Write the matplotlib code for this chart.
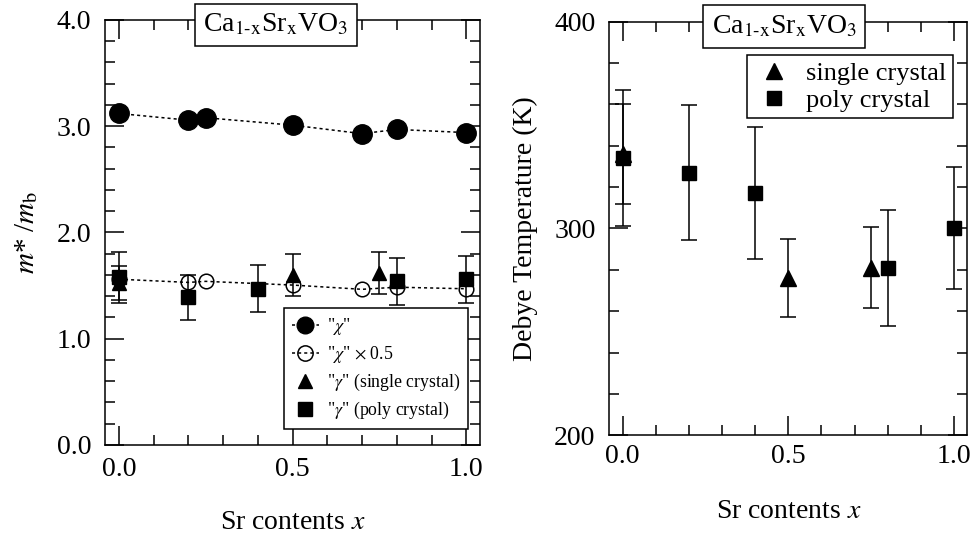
import numpy as np
import matplotlib
matplotlib.use('Agg')
import matplotlib.pyplot as plt
from matplotlib.ticker import MultipleLocator, FormatStrFormatter
from matplotlib.lines import Line2D

plt.rcParams['font.family'] = ['Liberation Serif', 'DejaVu Serif']
plt.rcParams['mathtext.fontset'] = 'stix'

# left panel: effective mass ratio
x_chi = [0.0, 0.2, 0.25, 0.5, 0.7, 0.8, 1.0]
m_chi = [3.12, 3.057, 3.08, 3.01, 2.93, 2.97, 2.94]
m_chi_half = [1.56, 1.53, 1.54, 1.505, 1.465, 1.485, 1.47]

x_gam_single = [0.0, 0.5, 0.75]
m_gam_single = [1.52, 1.60, 1.62]
m_gam_single_err = [0.16, 0.20, 0.20]

x_gam_poly = [0.0, 0.2, 0.4, 0.8, 1.0]
m_gam_poly = [1.58, 1.39, 1.47, 1.54, 1.56]
m_gam_poly_err = [0.24, 0.21, 0.22, 0.22, 0.22]

# right panel: Debye temperature
x_td_single = [0.0, 0.5, 0.75]
td_single = [336, 276, 281]
td_single_err = [24, 19, 19.5]

x_td_poly = [0.0, 0.2, 0.4, 0.8, 1.0]
td_poly = [334, 327, 317, 281, 300]
td_poly_err = [33, 32.5, 32, 28, 29.5]

title_str = r'Ca$_{\mathrm{1\text{-}x}}$Sr$_{\mathrm{x}}$VO$_{3}$'


def style_axes(ax, ymaj, ymin, xpad, lpad):
    ax.set_xlim(-0.04, 1.04)
    ax.xaxis.set_major_locator(MultipleLocator(0.5))
    ax.xaxis.set_minor_locator(MultipleLocator(0.1))
    ax.yaxis.set_major_locator(MultipleLocator(ymaj))
    ax.yaxis.set_minor_locator(MultipleLocator(ymin))
    ax.xaxis.set_major_formatter(FormatStrFormatter('%.1f'))
    ax.tick_params(which='both', direction='in', top=True, right=True,
                   width=1.1, labelsize=20)
    ax.tick_params(which='major', length=14, pad=10)
    ax.tick_params(axis='x', which='major', pad=xpad)
    ax.tick_params(which='minor', length=7)
    for sp in ax.spines.values():
        sp.set_linewidth(1.1)
    ax.set_xlabel(r'Sr contents $x$', fontsize=20, labelpad=lpad)


def title_box(ax, xpos, ypos):
    ax.text(xpos, ypos, title_str, transform=ax.transAxes, ha='center',
            va='center', fontsize=20, zorder=10,
            bbox=dict(boxstyle='square,pad=0.3', fc='white', ec='black', lw=1.1))


fig = plt.figure(figsize=(9.72, 5.4), dpi=100)
ax1 = fig.add_axes([0.108, 0.176, 0.386, 0.787])
ax2 = fig.add_axes([0.627, 0.194, 0.368, 0.766])

dots = (0, (2, 2))
eb = dict(color='black', ecolor='black', elinewidth=1.1, capsize=6, capthick=1.1,
          linestyle='none')

ax1.plot(x_chi, m_chi, color='black', linestyle=dots, lw=1.1, marker='o',
         markersize=14)
ax1.plot(x_chi, m_chi_half, color='black', linestyle=dots, lw=1.1, marker='o',
         markersize=10.5, mfc='none', mew=1.1)
ax1.errorbar(x_gam_single, m_gam_single, yerr=m_gam_single_err, marker='^',
             markersize=10, **eb)
ax1.errorbar(x_gam_poly, m_gam_poly, yerr=m_gam_poly_err, marker='s',
             markersize=9.5, **eb)
ax1.set_ylim(0, 4.0)
style_axes(ax1, 1.0, 0.2, 9, 20)
ax1.yaxis.set_major_formatter(FormatStrFormatter('%.1f'))
ax1.set_ylabel(r'$m$* /$m_{\mathrm{b}}$', fontsize=21, labelpad=12)

h1 = [Line2D([], [], color='black', linestyle=dots, lw=1.1, marker='o', markersize=12),
      Line2D([], [], color='black', linestyle=dots, lw=1.1, marker='o', markersize=11,
             mfc='none', mew=1.1),
      Line2D([], [], color='black', linestyle='none', marker='^', markersize=10),
      Line2D([], [], color='black', linestyle='none', marker='s', markersize=9.5)]
l1 = ['"$\\chi$"', '"$\\chi$" $\\times$ 0.5', '"$\\gamma$" (single crystal)',
      '"$\\gamma$" (poly crystal)']
leg1 = ax1.legend(h1, l1, loc='lower right', bbox_to_anchor=(0.968, 0.038),
                  fontsize=12.8, frameon=True, fancybox=False, edgecolor='black',
                  framealpha=1, handlelength=1.5, handletextpad=0.45,
                  borderpad=0.45, labelspacing=0.38, borderaxespad=0)
leg1.get_frame().set_linewidth(1.1)
title_box(ax1, 0.455, 0.988)

ax2.errorbar(x_td_single, td_single, yerr=td_single_err, marker='^',
             markersize=11, **eb)
ax2.errorbar(x_td_poly, td_poly, yerr=td_poly_err, marker='s',
             markersize=9.5, **eb)
ax2.set_ylim(200, 400)
style_axes(ax2, 100, 20, 6, 22)
ax2.set_ylabel('Debye Temperature (K)', fontsize=20, labelpad=12)
h2 = [Line2D([], [], color='black', linestyle='none', marker='^', markersize=12),
      Line2D([], [], color='black', linestyle='none', marker='s', markersize=10)]
leg2 = ax2.legend(h2, ['single crystal', 'poly crystal'], loc='upper right',
                  bbox_to_anchor=(0.96, 0.919), fontsize=19, frameon=True,
                  fancybox=False, edgecolor='black', framealpha=1,
                  handlelength=1.6, handletextpad=0.4, borderpad=0.25,
                  labelspacing=0.12, borderaxespad=0)
leg2.get_frame().set_linewidth(1.1)
title_box(ax2, 0.489, 0.988)

fig.savefig('out.png', dpi=100)
